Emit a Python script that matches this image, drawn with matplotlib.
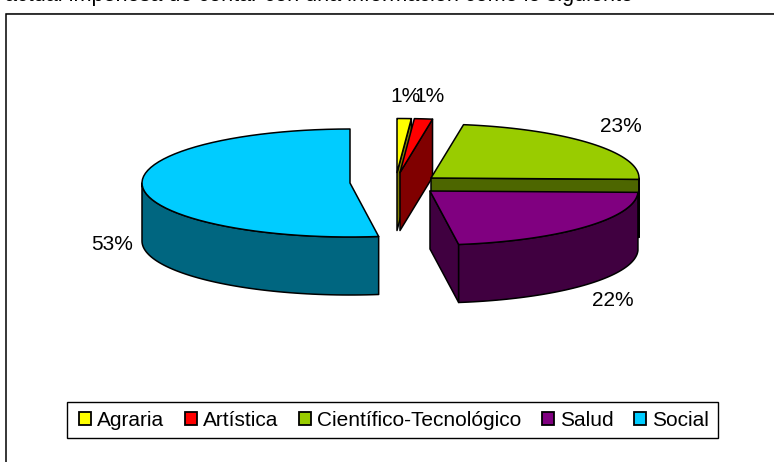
import numpy as np
import matplotlib
matplotlib.use("Agg")
import matplotlib.pyplot as plt
from matplotlib.patches import Patch, Polygon, Rectangle

# --- data ---
categories = ["Agraria", "Artística", "Científico-Tecnológico", "Salud", "Social"]
shares = [1.1, 1.4, 22.9, 22.4, 52.2]
share_labels = ["1%", "1%", "23%", "22%", "53%"]
top_colors = ["#FFFF00", "#FF0000", "#99CC00", "#800080", "#00CCFF"]
wall_colors = ["#808000", "#800000", "#4D6600", "#400040", "#006680"]
cropped_text = "actual imperiosa de contar con una información como lo siguiente"

# --- layout (pixels) ---
W, H = 774, 462
slice_centers = [(397, 172.5), (400, 172.5), (431, 178), (430, 191), (350, 183)]
label_centers = [(406, 97), (430, 97), (621, 126), (613, 300), (112, 245)]
RX, RY, DEPTH = 208, 54, 58

plt.rcParams["font.family"] = ["Liberation Sans", "DejaVu Sans"]
fig = plt.figure(figsize=(W / 100, H / 100), dpi=100)
ax = fig.add_axes([0, 0, 1, 1])
ax.set_xlim(0, W)
ax.set_ylim(H, 0)
ax.axis("off")


def rim(center, a0, a1, n=60):
    t = np.radians(np.linspace(a0, a1, n))
    return np.column_stack([center[0] + RX * np.sin(t), center[1] - RY * np.cos(t)])


LW = 1.1


def face(points, color, z):
    ax.add_patch(Polygon(points, closed=True, facecolor=color, edgecolor="black",
                         linewidth=LW, joinstyle="round", zorder=z))


edges = np.concatenate([[0], np.cumsum(shares)]) / np.sum(shares) * 360
for i in range(len(shares)):
    c, a0, a1 = slice_centers[i], edges[i], edges[i + 1]
    z = 2 + i
    apex = np.array(c, dtype=float)
    down = np.array([0, DEPTH])
    # cut wall at the clockwise end of the slice, when it faces the viewer
    if np.sin(np.radians(a1)) > 1e-6:
        end = rim(c, a1, a1, 1)[0]
        face([apex, end, end + down, apex + down], wall_colors[i], z)
    # outer wall: the front part of the rim
    lo, hi = max(a0, 90), min(a1, 270)
    if hi > lo:
        arc = rim(c, lo, hi)
        face(np.vstack([arc, (arc + down)[::-1]]), wall_colors[i], z)
    # top face
    face(np.vstack([[apex], rim(c, a0, a1)]), top_colors[i], z)

for lab, (x, y) in zip(share_labels, label_centers):
    ax.text(x, y, lab, fontsize=15, ha="center", va="center", color="black", zorder=20)

# chart border, only left and top sides fall inside the crop
ax.plot([6, 6, W], [H, 14, 14], color="black", lw=1.1, solid_joinstyle="miter", zorder=1)
ax.plot([6, W], [12.7, 12.7], color="#CCCCCC", lw=0.8, zorder=0)

# text of the page, cut by the top of the picture
ax.text(5, 1.5, cropped_text, fontsize=15.6, ha="left", va="baseline", color="black")

# legend box and entries
ax.add_patch(Rectangle((67, 402), 651, 36, facecolor="white", edgecolor="black",
                       linewidth=1.0, zorder=25))
handles = [Patch(facecolor=f, edgecolor="black", linewidth=1.3) for f in top_colors]
leg = ax.legend(handles, categories, ncol=5, loc="center",
                bbox_to_anchor=(394, 420.5), bbox_transform=ax.transData,
                fontsize=15, frameon=False, handlelength=0.58, handleheight=0.58,
                handletextpad=0.28, columnspacing=0.99, borderpad=0,
                borderaxespad=0, labelspacing=0)
leg.set_zorder(30)

fig.savefig("out.png", dpi=100, facecolor="white")
